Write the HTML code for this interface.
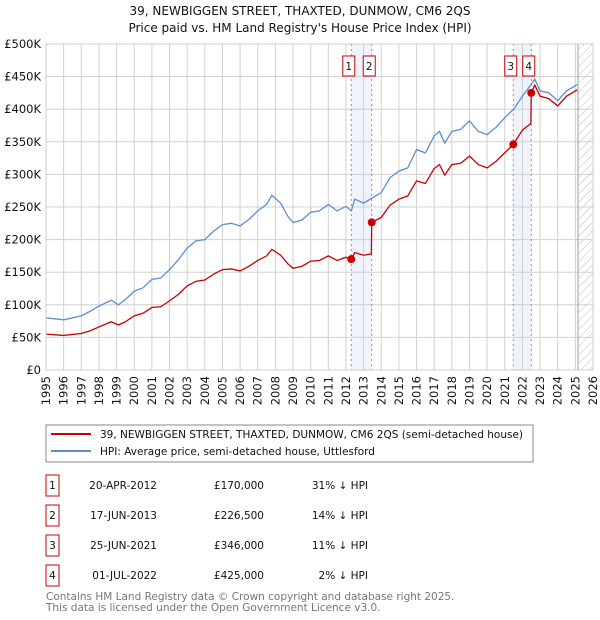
<!DOCTYPE html>
<html><head><meta charset="utf-8"><style>
body{margin:0;background:#fff;font-family:"DejaVu Sans","Liberation Sans",sans-serif;}
#wrap{position:relative;width:600px;height:620px;overflow:hidden}
</style></head><body><div id="wrap">
<svg id="svg" width="600" height="620" xmlns="http://www.w3.org/2000/svg" font-family="'DejaVu Sans','Liberation Sans',sans-serif">
<defs><pattern id="hatch" width="6" height="6" patternUnits="userSpaceOnUse" patternTransform="rotate(45)"><line x1="0" y1="0" x2="0" y2="6" stroke="#bbb" stroke-width="1"/></pattern></defs>
<text x="300" y="15" text-anchor="middle" font-size="12" fill="#111">39, NEWBIGGEN STREET, THAXTED, DUNMOW, CM6 2QS</text>
<text x="300" y="32" text-anchor="middle" font-size="12" fill="#111">Price paid vs. HM Land Registry's House Price Index (HPI)</text>
<g id="grid"></g><g id="marks"></g><g id="axes"></g>
<rect x="46" y="44" width="547" height="326" fill="none" stroke="#ccc"/>
<g>
<rect x="46" y="425" width="487" height="37" fill="#fff" stroke="#888"/>
<line x1="51" y1="434" x2="91" y2="434" stroke="#cc0000" stroke-width="2"/>
<text x="100" y="438" font-size="10.5" fill="#111">39, NEWBIGGEN STREET, THAXTED, DUNMOW, CM6 2QS (semi-detached house)</text>
<line x1="51" y1="451" x2="91" y2="451" stroke="#5b8fd1" stroke-width="2"/>
<text x="100" y="455" font-size="10.5" fill="#111">HPI: Average price, semi-detached house, Uttlesford</text>
</g>
<g id="table" font-size="10.5" fill="#111"></g>
<text x="46" y="600" font-size="10.5" fill="#777">Contains HM Land Registry data © Crown copyright and database right 2025.</text>
<text x="46" y="611" font-size="10.5" fill="#777">This data is licensed under the Open Government Licence v3.0.</text>
</svg></div>
<script>
const hpiYears=[1995,1996,1997,1997.5,1998,1998.7,1999.1,1999.5,2000,2000.5,2001,2001.5,2002,2002.5,2003,2003.5,2004,2004.5,2005,2005.5,2006,2006.5,2007,2007.5,2007.8,2008.3,2008.7,2009,2009.5,2010,2010.5,2011,2011.5,2012,2012.3,2012.5,2013,2013.5,2014,2014.5,2015,2015.5,2016,2016.5,2017,2017.3,2017.6,2018,2018.5,2019,2019.5,2020,2020.5,2021,2021.5,2022,2022.5,2022.7,2023,2023.5,2024,2024.5,2025,2025.1];
const hpiValues=[80,77,83,90,98,107,100,108,121,126,139,141,154,169,187,198,200,213,223,225,221,231,244,254,268,256,236,226,230,242,244,254,244,251,244,262,256,264,272,295,305,310,338,333,359,366,348,366,369,382,366,361,372,387,400,420,438,446,428,425,413,428,436,438];
const propYears=[1995,1996,1997,1997.5,1998,1998.7,1999.1,1999.5,2000,2000.5,2001,2001.5,2002,2002.5,2003,2003.5,2004,2004.5,2005,2005.5,2006,2006.5,2007,2007.5,2007.8,2008.3,2008.7,2009,2009.5,2010,2010.5,2011,2011.5,2012,2012.3,2012.5,2013,2013.44,2013.46,2014,2014.5,2015,2015.5,2016,2016.5,2017,2017.3,2017.6,2018,2018.5,2019,2019.5,2020,2020.5,2021,2021.48,2022,2022.48,2022.5,2022.7,2023,2023.5,2024,2024.5,2025,2025.1];
const propValues=[55,53,56,60,66,74,69,74,83,87,96,97,106,116,129,136,138,147,154,155,152,159,168,175,185,176,163,156,159,167,168,175,168,173,170,180,176,178,226.5,234,253,262,267,290,286,309,315,299,315,317,328,315,310,320,333,346,368,378,425,437,420,416,405,420,428,430];
const saleYears=[2012.30,2013.46,2021.48,2022.50];
const saleValues=[170,226.5,346,425];
const saleLabels=["1","2","3","4"];
const saleDates=["20-APR-2012","17-JUN-2013","25-JUN-2021","01-JUL-2022"];
const salePrices=["£170,000","£226,500","£346,000","£425,000"];
const saleDiffs=["31% ↓ HPI","14% ↓ HPI","11% ↓ HPI","2% ↓ HPI"];
const yTicks=[0,50,100,150,200,250,300,350,400,450,500];
const yTickLabels=["£0","£50K","£100K","£150K","£200K","£250K","£300K","£350K","£400K","£450K","£500K"];
const xTicks=[1995,1996,1997,1998,1999,2000,2001,2002,2003,2004,2005,2006,2007,2008,2009,2010,2011,2012,2013,2014,2015,2016,2017,2018,2019,2020,2021,2022,2023,2024,2025,2026];

const X0=46,X1=593,Y0=370,Y1=44;
const xs=y=>X0+(y-1995)/(2026-1995)*(X1-X0);
const ys=v=>Y0-(v/500)*(Y0-Y1);
const NS="http://www.w3.org/2000/svg";
function mk(tag,attrs,parent){const e=document.createElementNS(NS,tag);for(const k in attrs)e.setAttribute(k,attrs[k]);parent.appendChild(e);return e;}
const grid=document.getElementById('grid'),marks=document.getElementById('marks'),axes=document.getElementById('axes'),table=document.getElementById('table');
[[0,1],[2,3]].forEach(([a,b],i)=>{
  const r=mk('rect',{x:xs(saleYears[a]),y:Y1,width:xs(saleYears[b])-xs(saleYears[a]),height:Y0-Y1,fill:'#eef3fc'},grid);
  
  
});
const h=mk('rect',{x:xs(2025.2),y:Y1,width:X1-xs(2025.2),height:Y0-Y1,fill:'url(#hatch)'},grid);


xTicks.forEach((t,i)=>{
  const l=mk('line',{x1:xs(t),x2:xs(t),y1:Y1,y2:Y0,stroke:'#d0d0d0'},grid);
  
  
  const tx=mk('text',{x:0,y:0,'font-size':11.5,fill:'#111','text-anchor':'end',transform:`translate(${xs(t)+4},${Y0+6}) rotate(-90)`},axes);
  tx.textContent=t;
  
  
});
yTicks.forEach((t,i)=>{
  const l=mk('line',{x1:X0,x2:X1,y1:ys(t),y2:ys(t),stroke:'#d0d0d0'},grid);
  
  
  const tx=mk('text',{x:X0-5,y:ys(t)+4,'font-size':11.5,fill:'#111','text-anchor':'end'},axes);
  tx.textContent=yTickLabels[i];
  
  
});
const vl=mk('line',{x1:xs(2025.15),x2:xs(2025.15),y1:Y1,y2:Y0,stroke:'#999'},grid);


saleYears.forEach((y,i)=>{
  const l=mk('line',{x1:xs(y),x2:xs(y),y1:Y1,y2:Y0,stroke:'#e05050','stroke-dasharray':'2,3','stroke-width':0.8},marks);
  
  
  const cx=xs(y)-2.5;
  const bx=mk('rect',{x:cx-6,y:56,width:12,height:20,fill:'#fff',stroke:'#cc0000'},marks);
  
  
  const t=mk('text',{x:cx,y:70,'font-size':10.5,'text-anchor':'middle',fill:'#111'},marks);
  t.textContent=saleLabels[i];
  
  
});
const hp=mk('polyline',{points:hpiYears.map((y,i)=>xs(y)+','+ys(hpiValues[i])).join(' '),fill:'none',stroke:'#5b8fd1','stroke-width':1.3},marks);


const pp=mk('polyline',{points:propYears.map((y,i)=>xs(y)+','+ys(propValues[i])).join(' '),fill:'none',stroke:'#cc0000','stroke-width':1.3},marks);


saleYears.forEach((y,i)=>{
  const c=mk('circle',{cx:xs(y),cy:ys(saleValues[i]),r:4,fill:'#cc0000'},marks);
  
  
});
saleLabels.forEach((s,i)=>{
  const y=475+i*30;
  const bx=mk('rect',{x:46,y:y,width:13,height:21,fill:'#fff',stroke:'#cc0000'},table);
  
  
  const cells=[[52.5,s,'middle'],[157,saleDates[i],'end'],[264,salePrices[i],'end'],[368,saleDiffs[i],'end']];
  cells.forEach(c=>{
    const t=mk('text',{x:c[0],y:y+14,'text-anchor':c[2]},table);
    t.textContent=c[1];
    
    
  });
});
</script></body></html>
